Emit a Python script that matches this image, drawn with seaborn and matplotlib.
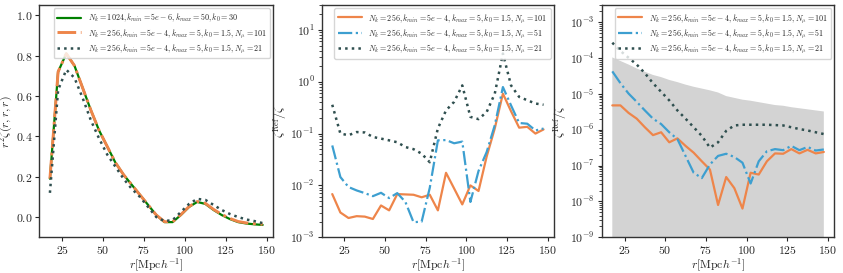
import numpy as np
import matplotlib
matplotlib.use('Agg')
import matplotlib.pyplot as plt
import seaborn as sns

############# Data ######################################
#########################################################
r = [17.5, 22.5, 27.5, 32.5, 37.5, 42.5, 47.5, 52.5, 57.5, 62.5, 67.5, 72.5, 77.5, 82.5,
     87.5, 92.5, 97.5, 102.5, 107.5, 112.5, 117.5, 122.5, 127.5, 132.5, 137.5, 142.5, 147.5]

# Left panel: r^2 zeta(r,r,r)
zeta_ref = [0.19, 0.72, 0.81, 0.75, 0.64, 0.53, 0.43, 0.35, 0.27, 0.21, 0.16, 0.11, 0.06, 0.01,
            -0.025, -0.025, 0.01, 0.05, 0.075, 0.065, 0.035, 0.01, -0.01, -0.025, -0.032, -0.036, -0.039]
zeta_mu101 = [0.19, 0.72, 0.81, 0.75, 0.64, 0.53, 0.43, 0.35, 0.27, 0.21, 0.16, 0.11, 0.06, 0.01,
              -0.023, -0.023, 0.012, 0.052, 0.077, 0.068, 0.038, 0.013, -0.007, -0.022, -0.029, -0.033, -0.036]
zeta_mu21 = [0.12, 0.63, 0.73, 0.69, 0.59, 0.48, 0.39, 0.31, 0.25, 0.19, 0.14, 0.10, 0.05, 0.0,
             -0.02, -0.015, 0.025, 0.065, 0.09, 0.085, 0.06, 0.035, 0.015, 0.0, -0.012, -0.02, -0.03]

# Middle panel: zeta^Ref / zeta
ratio_mu101 = [6.8e-3, 3.0e-3, 2.35e-3, 2.55e-3, 2.5e-3, 2.25e-3, 4.1e-3, 3.3e-3, 6.8e-3, 6.7e-3,
               6.6e-3, 5.9e-3, 6.6e-3, 3.3e-3, 1.75e-2, 8.7e-3, 4.3e-3, 1.0e-2, 7.8e-3, 3.6e-2,
               0.126, 0.59, 0.27, 0.13, 0.135, 0.10, 0.12]
ratio_mu51 = [0.059, 0.0145, 9.3e-3, 8.0e-3, 7.1e-3, 6.2e-3, 7.2e-3, 5.7e-3, 7.1e-3, 4.8e-3,
              1.95e-3, 2.0e-3, 9.0e-3, 0.074, 0.075, 0.065, 0.07, 4.8e-3, 0.019, 0.044,
              0.145, 0.79, 0.35, 0.16, 0.155, 0.115, 0.125]
ratio_mu21 = [0.36, 0.10, 0.093, 0.107, 0.105, 0.086, 0.08, 0.074, 0.068, 0.055,
              0.05, 0.041, 0.028, 0.126, 0.28, 0.41, 0.85, 0.21, 0.19, 0.26,
              0.59, 3.5, 0.85, 0.51, 0.44, 0.38, 0.36]

# Right panel: log10 of zeta^Ref / zeta
log_mu101 = [-5.32, -5.32, -5.53, -5.69, -5.93, -6.15, -6.07, -6.35, -6.24, -6.45, -6.64, -6.88, -7.11, -8.10,
             -7.32, -7.63, -8.20, -7.20, -7.25, -6.88, -6.66, -6.67, -6.54, -6.66, -6.56, -6.66, -6.62]
log_mu51 = [-4.37, -4.70, -4.99, -5.22, -5.46, -5.69, -5.84, -6.07, -6.26, -6.73, -7.20, -7.35, -6.97, -6.73,
            -6.67, -6.76, -6.92, -7.50, -6.88, -6.60, -6.54, -6.57, -6.45, -6.57, -6.48, -6.58, -6.55]
log_mu21 = [-3.57, -3.80, -3.99, -4.18, -4.42, -4.70, -4.94, -5.18, -5.46, -5.69, -5.93, -6.17, -6.50, -6.35,
            -6.03, -5.88, -5.86, -5.86, -5.86, -5.86, -5.87, -5.88, -5.93, -5.98, -6.02, -6.07, -6.12]
# Grey band upper edge (log10)
log_band = [-3.98, -4.08, -4.18, -4.29, -4.38, -4.47, -4.53, -4.61, -4.67, -4.74, -4.80, -4.85, -4.90, -4.96,
            -5.06, -5.11, -5.16, -5.19, -5.23, -5.27, -5.31, -5.33, -5.37, -5.40, -5.43, -5.46, -5.49]

lab_ref = r'$N_k = 1024, k_{min} = 5e-6, k_{max} = 50, k_0 = 30$'
lab_101 = r'$N_k = 256, k_{min} = 5e-4, k_{max} = 5, k_0 = 1.5, N_\mu = 101$'
lab_51 = r'$N_k = 256, k_{min} = 5e-4, k_{max} = 5, k_0 = 1.5, N_\mu = 51$'
lab_21 = r'$N_k = 256, k_{min} = 5e-4, k_{max} = 5, k_0 = 1.5, N_\mu = 21$'

c_green = 'green'
c_orange = '#ee854a'
c_blue = '#3d9fd0'
c_dark = '#2f4f4f'

############# Style ######################################
#########################################################
sns.set_style('ticks')
plt.rcParams['font.family'] = 'serif'
plt.rcParams['font.serif'] = ['cmr10', 'DejaVu Serif']
plt.rcParams['mathtext.fontset'] = 'cm'
plt.rcParams['axes.formatter.use_mathtext'] = True
plt.rcParams['axes.edgecolor'] = '#333333'
plt.rcParams['axes.linewidth'] = 1.0
plt.rcParams['xtick.labelsize'] = 8.5
plt.rcParams['ytick.labelsize'] = 8.5
plt.rcParams['axes.labelsize'] = 8.5

fig = plt.figure(figsize=(8.43, 2.73), dpi=100)
ax1 = fig.add_axes([0.0466, 0.131, 0.2776, 0.85])
ax2 = fig.add_axes([0.3816, 0.131, 0.2757, 0.85])
ax3 = fig.add_axes([0.7138, 0.131, 0.2760, 0.85])

r_arr = np.array(r)

############# Left panel #################################
sns.lineplot(x=r, y=zeta_ref, ax=ax1, color=c_green, lw=1.6, label=lab_ref)
sns.lineplot(x=r, y=zeta_mu101, ax=ax1, color=c_orange, lw=2.1, linestyle='-.', label=lab_101)
sns.lineplot(x=r, y=zeta_mu21, ax=ax1, color=c_dark, lw=1.8, linestyle=':', label=lab_21)
ax1.set_ylim(-0.1, 1.05)
ax1.set_yticks([0.0, 0.2, 0.4, 0.6, 0.8, 1.0])
ax1.set_ylabel(r'$r^2\zeta(r,r,r)$')
ax1.yaxis.set_label_coords(-0.105, 0.5)

############# Middle panel ###############################
sns.lineplot(x=r, y=ratio_mu101, ax=ax2, color=c_orange, lw=1.6, label=lab_101)
sns.lineplot(x=r, y=ratio_mu51, ax=ax2, color=c_blue, lw=1.6, linestyle='-.', label=lab_51)
sns.lineplot(x=r, y=ratio_mu21, ax=ax2, color=c_dark, lw=1.8, linestyle=':', label=lab_21)
ax2.set_yscale('log')
ax2.set_ylim(1e-3, 30)
ax2.set_ylabel(r'$\zeta^{\rm Ref}/\zeta$', labelpad=1)

############# Right panel ################################
ax3.fill_between(r_arr, 1e-12, 10 ** np.array(log_band), color='lightgrey', lw=0)
sns.lineplot(x=r, y=10 ** np.array(log_mu101), ax=ax3, color=c_orange, lw=1.6, label=lab_101)
sns.lineplot(x=r, y=10 ** np.array(log_mu51), ax=ax3, color=c_blue, lw=1.6, linestyle='-.', label=lab_51)
sns.lineplot(x=r, y=10 ** np.array(log_mu21), ax=ax3, color=c_dark, lw=1.8, linestyle=':', label=lab_21)
ax3.set_yscale('log')
ax3.set_ylim(1e-9, 3e-3)
ax3.set_ylabel(r'$\zeta^{\rm Ref}/\zeta$', labelpad=1)

for ax in (ax1, ax2, ax3):
    ax.set_xlim(11, 154)
    ax.set_xticks([25, 50, 75, 100, 125, 150])
    ax.set_xlabel(r'$r[{\rm Mpc}h^{-1}]$', labelpad=0)
    ax.legend(loc='upper right', fontsize=5.8, frameon=True, borderaxespad=0.4,
              handlelength=3.0, labelspacing=0.3)
    ax.tick_params(length=3, pad=2)

plt.savefig('out.png', dpi=100)
